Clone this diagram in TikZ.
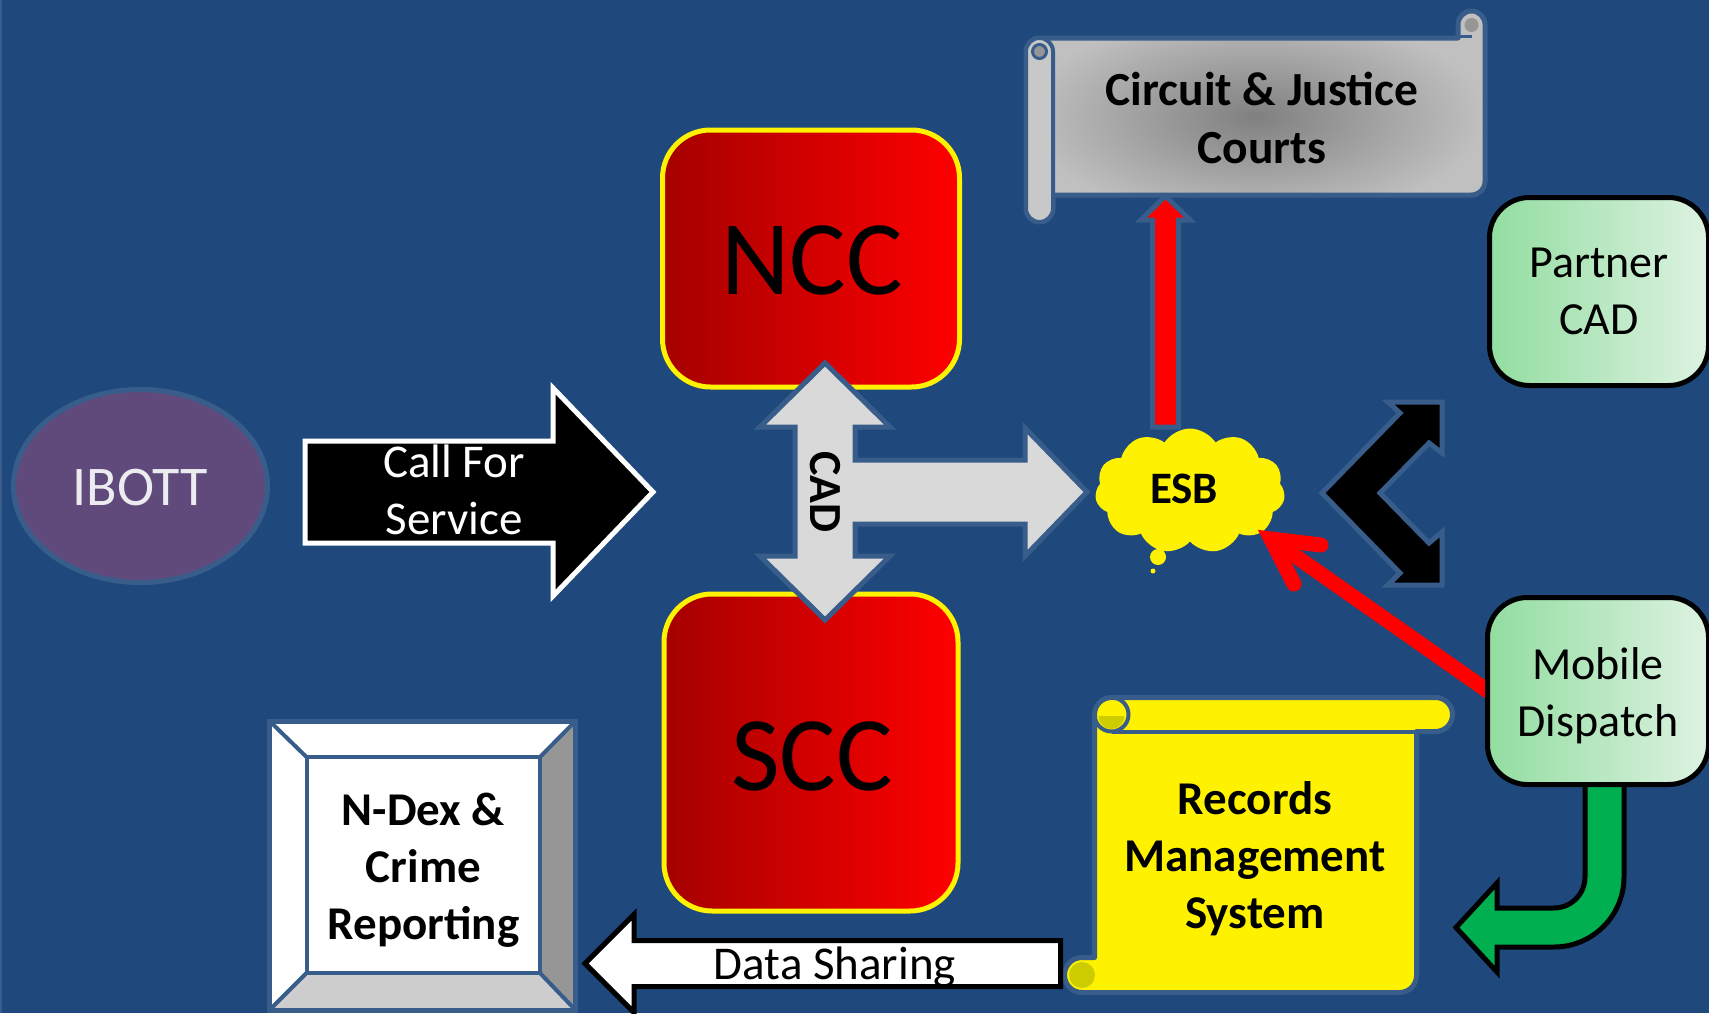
\documentclass[tikz,border=0pt]{standalone}
\usepackage{fontspec}
\setmainfont{Carlito}
\usetikzlibrary{shapes.geometric,shapes.symbols,calc}

\definecolor{bgblue}{RGB}{31,73,125}
\definecolor{edgeblue}{RGB}{56,93,138}
\definecolor{ibpurple}{RGB}{96,74,123}
\definecolor{ibottwhite}{RGB}{236,236,240}
\definecolor{darkred}{RGB}{165,0,0}
\definecolor{brightred}{RGB}{255,0,0}
\definecolor{scrollmid}{RGB}{128,128,128}
\definecolor{scrollrim}{RGB}{192,192,192}
\definecolor{rollgray}{RGB}{200,200,200}
\definecolor{curlgray}{RGB}{150,150,150}
\definecolor{mintleft}{RGB}{146,221,160}
\definecolor{mintright}{RGB}{222,242,226}
\definecolor{arrowgreen}{RGB}{0,176,80}
\definecolor{curlyellow}{RGB}{204,204,0}
\definecolor{cadgray}{RGB}{217,217,217}
\definecolor{bevelside}{RGB}{150,150,150}
\definecolor{bevelbase}{RGB}{205,205,205}

\tikzset{
  centrebox/.style={rectangle, rounded corners=48, draw=yellow, line width=5,
    left color=darkred, right color=brightred, minimum width=297},
  centretext/.style={font=\fontsize{106}{120}\selectfont},
  greenbox/.style={rectangle, rounded corners=40, draw=black, line width=5,
    left color=mintleft, right color=mintright, align=center,
    font=\fontsize{46}{57}\selectfont},
  plaintext/.style={align=center, font=\fontsize{47}{57}\selectfont},
  boldtext/.style={align=center, font=\bfseries\fontsize{47}{57}\selectfont},
  blockarrow/.style={line width=5, line join=miter},
}

\begin{document}
\begin{tikzpicture}[x=1pt,y=-1pt]
\useasboundingbox (0,0) rectangle (1709,1013);
\fill[bgblue] (0,0) rectangle (1709,1013);
\fill[edgeblue] (0,0) rectangle (2,1013);

% IBOTT
\node[ellipse, minimum width=254, minimum height=193, inner sep=0,
  fill=ibpurple, draw=edgeblue, line width=5] (ibott) at (140.5,486) {};
\node[text=ibottwhite, font=\fontsize{56}{60}\selectfont] (ibottlabel) at (140.5,487.5) {IBOTT};

% Call For Service
\filldraw[blockarrow, fill=black, draw=white]
  (305,441) -- (553,441) -- (553,388) -- (653,492) -- (553,596)
  -- (553,543) -- (305,543) -- cycle;
\node[plaintext, text=white] (callservice) at (454,490) {Call For\\Service};

% NCC and SCC
\node[centrebox, minimum height=257] (ncc) at (811,258.5) {};
\node[centretext] (ncclabel) at (812,260.5) {NCC};
\node[centrebox, minimum width=294, minimum height=317] (scc) at (811,752.5) {};
\node[centretext] (scclabel) at (812,756) {SCC};

% CAD three-way arrow
\filldraw[blockarrow, fill=cadgray, draw=edgeblue]
  (825,363) -- (890,427) -- (855,427) -- (855,460) -- (1025,460)
  -- (1025,428) -- (1087,492) -- (1025,556) -- (1025,524) -- (855,524)
  -- (855,556) -- (890,556) -- (825,620) -- (760,556) -- (795,556)
  -- (795,427) -- (760,427) -- cycle;
\node[rotate=-90, font=\bfseries\fontsize{46}{55}\selectfont] (cadlabel) at (825,492) {CAD};

% Circuit & Justice Courts scroll
\shade[inner color=scrollmid, outer color=scrollrim, draw=edgeblue, line width=5, line join=round]
  (1026,51.5) -- (1026,208.5) arc[start angle=180,end angle=0,radius=13.5]
  -- (1053,195) -- (1471.5,195) arc[start angle=90,end angle=0,radius=13.5]
  -- (1485,24.5) arc[start angle=0,end angle=-180,radius=13.5]
  -- (1458,38) -- (1039.5,38) arc[start angle=-90,end angle=-180,radius=13.5] -- cycle;
\filldraw[fill=rollgray, draw=edgeblue, line width=4]
  (1026,51.5) -- (1026,208.5) arc[start angle=180,end angle=0,radius=13.5]
  -- (1053,51.5) arc[start angle=0,end angle=-180,radius=13.5] -- cycle;
\filldraw[fill=curlgray, draw=edgeblue, line width=3] (1039.5,51.5) circle (7);
\fill[curlgray] (1471.5,25) circle (7);
\draw[edgeblue, line width=3] (1458,36) -- (1471.5,36);
\node[boldtext, font=\bfseries\fontsize{47.5}{58}\selectfont] (courtslabel) at (1262,117.5) {Circuit \& Justice\\Courts};

% ESB up to the courts
\filldraw[blockarrow, fill=red, draw=edgeblue]
  (1152.5,427) -- (1152.5,220) -- (1141,220) -- (1165.5,196) -- (1190,220)
  -- (1178.5,220) -- (1178.5,427) -- cycle;

% ESB cloud
\node[cloud, cloud puffs=11, cloud puff arc=115, cloud ignores aspect,
  fill=yellow, minimum width=190, minimum height=125, inner sep=0] (esb) at (1190,491) {};
\node[font=\bfseries\fontsize{45}{54}\selectfont] (esblabel) at (1184,489) {ESB};
\fill[yellow] (1158,557) circle (8);
\fill[yellow] (1153,571) circle (2.5);

% Partner link chevron
\filldraw[blockarrow, fill=black, draw=edgeblue]
  (1322,493) -- (1400,413) -- (1388,402) -- (1442,402) -- (1442,453)
  -- (1429,443) -- (1380,493) -- (1429,543) -- (1442,532) -- (1442,585)
  -- (1388,585) -- (1400,573) -- cycle;

% Mobile Dispatch to ESB
\coordinate (mobilein) at (1492,694);
\coordinate (esbtip) at (1271,539);
\draw[red, line width=15] (mobilein) -- (esbtip);
\draw[red, line width=15, line cap=round, line join=miter]
  ($(esbtip)+(50,6)$) -- (esbtip) -- ($(esbtip)+(23,45)$);

% Mobile Dispatch down to records
\filldraw[blockarrow, fill=arrowgreen, draw=black]
  (1624,770) -- (1624,877) arc[start angle=0,end angle=90,radius=70]
  -- (1497,947) -- (1497,972) -- (1456,927.5) -- (1497,883) -- (1497,908)
  -- (1554,908) arc[start angle=90,end angle=0,radius=31] -- (1585,770) -- cycle;

% Partner CAD and Mobile Dispatch
\node[greenbox, minimum width=219, minimum height=188] (partner) at (1599,291.5) {Partner\\CAD};
\node[greenbox, minimum width=221, minimum height=187] (mobile) at (1598,691) {};
\node[plaintext, font=\fontsize{46}{57}\selectfont] (mobilelabel) at (1598,696) {Mobile\\Dispatch};

% Records Management System scroll
\filldraw[fill=yellow, draw=edgeblue, line width=5, line join=round]
  (1111.5,697.5) -- (1435.5,697.5) arc[start angle=-90,end angle=90,radius=17]
  -- (1416.5,731.5) -- (1416.5,975.5) arc[start angle=0,end angle=90,radius=17]
  -- (1082,992.5) arc[start angle=90,end angle=270,radius=17.5]
  -- (1094.5,957.5) -- (1094.5,714.5) arc[start angle=180,end angle=270,radius=17] -- cycle;
\draw[edgeblue, line width=4] (1111.5,731.5) -- (1416.5,731.5);
\draw[edgeblue, line width=4] (1111.5,714.5) circle (17);
\fill[curlyellow] (1098.5,716) arc[start angle=180,end angle=0,radius=13] -- cycle;
\fill[curlyellow] (1082,975) circle (13);
\node[boldtext] (rmslabel) at (1255,858.5) {Records\\Management\\System};

% Data Sharing
\filldraw[blockarrow, fill=white, draw=black]
  (585,963.5) -- (634,914.5) -- (634,940.5) -- (1060.5,940.5) -- (1060.5,986.5)
  -- (634,986.5) -- (634,1012.5) -- cycle;
\node[plaintext] (datalabel) at (835,967) {Data Sharing};

% N-Dex & Crime Reporting bevel
\fill[white] (269.5,721) rectangle (575.5,1010);
\fill[bevelside] (575.5,721) -- (575.5,1010) -- (540,973) -- (540,757) -- cycle;
\fill[bevelbase] (269.5,1010) -- (575.5,1010) -- (540,973) -- (306.5,973) -- cycle;
\draw[edgeblue, line width=4] (306.5,757) rectangle (540,973);
\draw[edgeblue, line width=4] (269.5,721) -- (306.5,757) (575.5,721) -- (540,757)
  (269.5,1010) -- (306.5,973) (575.5,1010) -- (540,973);
\draw[edgeblue, line width=5] (269.5,721) rectangle (575.5,1010);
\node[boldtext] (ndexlabel) at (423.5,870) {N-Dex \&\\Crime\\Reporting};
\end{tikzpicture}
\end{document}
